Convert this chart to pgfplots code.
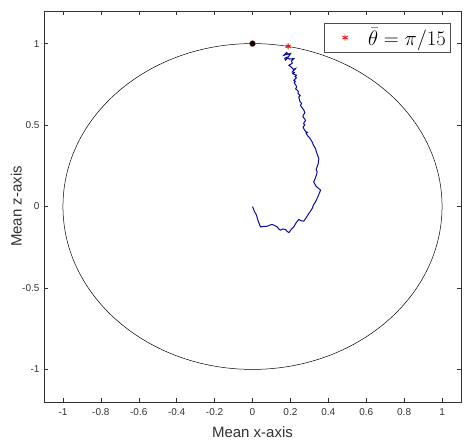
\documentclass[border=0pt]{standalone}
\usepackage[no-math]{fontspec}
\setmainfont{Liberation Sans}
\usepackage{pgfplots}
\pgfplotsset{compat=1.18}
\usetikzlibrary{calc}
\definecolor{axgray}{RGB}{50,50,50}
\definecolor{walkblue}{RGB}{10,10,150}
\definecolor{dotedge}{RGB}{190,80,20}
\begin{document}
\begin{tikzpicture}
\begin{axis}[
  name=ax,
  scale only axis,
  width=417pt, height=391pt,
  xmin=-1.1, xmax=1.1, ymin=-1.2, ymax=1.2,
  xtick={-1,-0.8,-0.6,-0.4,-0.2,0,0.2,0.4,0.6,0.8,1},
  xticklabels={-1,-0.8,-0.6,-0.4,-0.2,0,0.2,0.4,0.6,0.8,1},
  ytick={-1,-0.5,0,0.5,1},
  yticklabels={-1,-0.5,0,0.5,1},
  tick align=inside,
  major tick length=4pt,
  axis line style={axgray, line width=0.5pt},
  every tick/.style={axgray, line width=0.5pt},
  tick label style={font=\fontsize{10}{12}\selectfont, text=axgray},
  xticklabel style={yshift=-3pt},
  yticklabel style={xshift=-1pt},
  xlabel={Mean x-axis},
  ylabel={Mean z-axis},
  label style={font=\fontsize{15}{18}\selectfont, text=axgray},
  xlabel style={at={(axis description cs:0.5,0)}, anchor=north, inner sep=0pt, yshift=-24pt},
  ylabel style={at={(axis description cs:0,0.5)}, anchor=south, inner sep=0pt, yshift=22pt},
  clip=false,
  legend style={at={(rel axis cs:0.974,0.969)}, anchor=north east, draw=black!70, fill=white,
    font=\fontsize{20}{22}\selectfont, inner xsep=2pt, inner ysep=3pt},
  legend cell align=left,
  legend image code/.code={\path[draw=none,fill=none] (0,0) rectangle (40pt,0pt); \draw[#1, only marks] plot coordinates {(19pt,0pt)};},
]
\draw[black, line width=0.5pt] (axis cs:0,0) ellipse [x radius=1, y radius=1];
\addplot[walkblue, line width=1pt, mark=none, forget plot] coordinates {
(0,0) (0.010,-0.030) (0.021,-0.053) (0.030,-0.090) (0.042,-0.125)
(0.060,-0.122) (0.078,-0.121) (0.092,-0.114) (0.104,-0.110) (0.118,-0.118)
(0.130,-0.125) (0.140,-0.140) (0.148,-0.145) (0.160,-0.138) (0.174,-0.141)
(0.182,-0.152) (0.192,-0.160) (0.205,-0.140) (0.218,-0.125) (0.230,-0.100)
(0.244,-0.080) (0.258,-0.088) (0.271,-0.090) (0.285,-0.065) (0.297,-0.043)
(0.305,-0.030) (0.315,-0.012) (0.322,0.010) (0.332,0.028) (0.345,0.060)
(0.359,0.100) (0.350,0.110) (0.335,0.125) (0.323,0.151) (0.330,0.170)
(0.338,0.195) (0.341,0.212) (0.336,0.228) (0.341,0.243) (0.347,0.265)
(0.350,0.294) (0.340,0.325) (0.332,0.356) (0.322,0.375) (0.315,0.396)
(0.305,0.415) (0.297,0.427) (0.289,0.437) (0.283,0.450) (0.290,0.455)
(0.280,0.460) (0.272,0.475) (0.267,0.488) (0.276,0.500) (0.270,0.508)
(0.272,0.515) (0.280,0.528) (0.274,0.540) (0.266,0.550) (0.268,0.560)
(0.276,0.575) (0.271,0.591) (0.262,0.605) (0.258,0.612) (0.253,0.621)
(0.259,0.633) (0.250,0.645) (0.247,0.660) (0.244,0.672) (0.252,0.680)
(0.240,0.695) (0.242,0.705) (0.236,0.714) (0.228,0.722) (0.233,0.735)
(0.227,0.748) (0.220,0.760) (0.226,0.768) (0.218,0.775) (0.232,0.790)
(0.225,0.798) (0.232,0.806) (0.212,0.815) (0.220,0.822) (0.210,0.826)
(0.227,0.847) (0.215,0.842) (0.205,0.855) (0.192,0.867) (0.200,0.872)
(0.210,0.880) (0.205,0.893) (0.218,0.908) (0.195,0.905) (0.185,0.912)
(0.174,0.898) (0.170,0.910) (0.190,0.920) (0.201,0.939) (0.185,0.935)
(0.165,0.928) (0.175,0.940) (0.180,0.945) (0.195,0.930) (0.190,0.918)
};
\addplot[only marks, mark=*, mark size=3pt, draw=dotedge, fill=black, forget plot] coordinates {(0,1)};
\addplot[only marks, mark=asterisk, mark size=3pt, red, line width=0.8pt] coordinates {(0.188,0.983)};
\addlegendentry{$\bar{\theta}=\pi/15$}
\end{axis}
\path[use as bounding box] ($(ax.south west)+(-44pt,-43pt)$) rectangle ($(ax.north east)+(7pt,11pt)$);
\end{tikzpicture}
\end{document}
